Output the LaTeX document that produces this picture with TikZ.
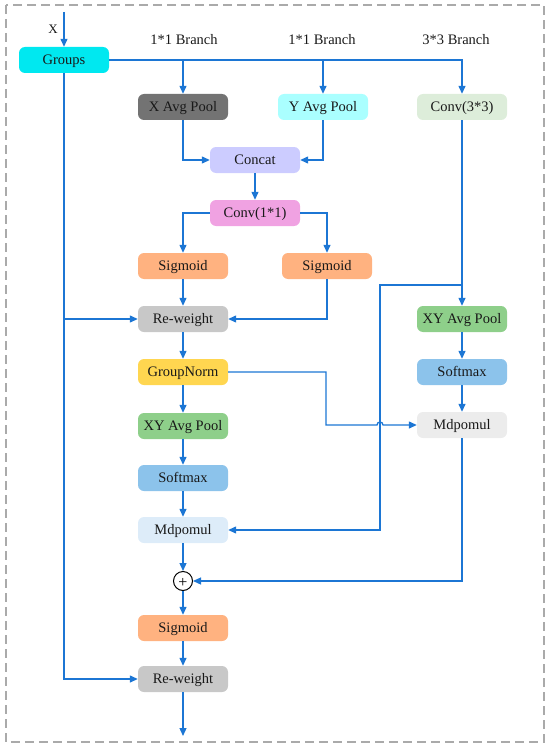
\documentclass[tikz,border=0pt]{standalone}
\usepackage{fontspec}
\setmainfont{Liberation Serif}
\usetikzlibrary{arrows.meta}
\definecolor{lnblue}{RGB}{28,118,212}
\definecolor{cgroups}{RGB}{0,232,240}
\definecolor{cxavg}{RGB}{115,115,115}
\definecolor{cyavg}{RGB}{170,255,255}
\definecolor{cconvt}{RGB}{221,237,218}
\definecolor{cconcat}{RGB}{204,204,255}
\definecolor{cconvo}{RGB}{240,162,226}
\definecolor{csig}{RGB}{255,178,128}
\definecolor{crw}{RGB}{200,200,200}
\definecolor{cgn}{RGB}{255,214,80}
\definecolor{cxy}{RGB}{142,207,138}
\definecolor{csm}{RGB}{140,195,235}
\definecolor{cmdr}{RGB}{236,236,236}
\definecolor{cmdl}{RGB}{221,236,249}
\definecolor{cborder}{RGB}{170,170,170}
\begin{document}
\begin{tikzpicture}[x=1pt,y=-1pt,
  box/.style={rounded corners=6pt, minimum width=90pt, minimum height=26pt, inner sep=0pt,
    text height=12.1pt, text depth=2.5pt,
    font=\fontsize{14.5}{16}\selectfont, text=black!90},
  conn/.style={draw=lnblue, line width=1.3pt, -{Triangle[length=8pt,width=7pt]}},
  lbl/.style={font=\fontsize{14.5}{16}\selectfont, text=black!90}]
\useasboundingbox (0,0) rectangle (550,749);
\draw[cborder, line width=1.5pt, dash pattern=on 9pt off 5pt] (6,5) rectangle (544,742);

% labels
\node[lbl] (lb1) at (184,40) {1*1 Branch};
\node[lbl] (lb2) at (322,40) {1*1 Branch};
\node[lbl] (lb3) at (456,40) {3*3 Branch};
\node[lbl, font=\fontsize{13}{14}\selectfont] (lx) at (53,29) {X};

% nodes
\node[box, fill=cgroups] (groups) at (64,60) {Groups};
\node[box, fill=cxavg] (xavg) at (183,107) {X Avg Pool};
\node[box, fill=cyavg] (yavg) at (323,107) {Y Avg Pool};
\node[box, fill=cconvt] (conv3) at (462,107) {Conv(3*3)};
\node[box, fill=cconcat] (concat) at (255,160) {Concat};
\node[box, fill=cconvo] (conv1) at (255,213) {Conv(1*1)};
\node[box, fill=csig] (sig1) at (183,266) {Sigmoid};
\node[box, fill=csig] (sig2) at (327,266) {Sigmoid};
\node[box, fill=crw] (rw1) at (183,319) {Re-weight};
\node[box, fill=cgn] (gn) at (183,372) {GroupNorm};
\node[box, fill=cxy] (xy1) at (183,426) {XY Avg Pool};
\node[box, fill=csm] (sm1) at (183,478) {Softmax};
\node[box, fill=cmdl] (md1) at (183,530) {Mdpomul};
\node[draw=black, line width=1pt, circle, minimum size=19pt, inner sep=0pt,
  text height=12pt, text depth=0pt, font=\fontsize{16}{16}\selectfont] (plus) at (183,581) {+};
\node[box, fill=csig] (sig3) at (183,628) {Sigmoid};
\node[box, fill=crw] (rw2) at (183,679) {Re-weight};
\node[box, fill=cxy] (xy2) at (462,319) {XY Avg Pool};
\node[box, fill=csm] (sm2) at (462,372) {Softmax};
\node[box, fill=cmdr] (md2) at (462,425) {Mdpomul};

\coordinate (xin) at (64,12);
\coordinate (out) at (183,736);
\coordinate (tap) at (462,285);
\coordinate (side) at (380,285);
\coordinate (gnturn) at (326,372);

% connectors
\draw[conn] (xin) -- (groups.north);
\draw[conn] (groups.east) -| (conv3.north);
\draw[conn] (xavg.north |- groups.east) -- (xavg.north);
\draw[conn] (yavg.north |- groups.east) -- (yavg.north);
\draw[conn] (xavg.south) |- (concat.west);
\draw[conn] (yavg.south) |- (concat.east);
\draw[conn] (concat) -- (conv1);
\draw[conn] (conv1.west) -| (sig1.north);
\draw[conn] (conv1.east) -| (sig2.north);
\draw[conn] (sig1) -- (rw1);
\draw[conn] (sig2.south) |- (rw1.east);
\draw[conn] (groups.south) |- (rw2.west);
\draw[conn] (groups.south |- rw1.west) -- (rw1.west);
\draw[conn] (rw1) -- (gn);
\draw[conn] (gn) -- (xy1);
\draw[conn] (xy1) -- (sm1);
\draw[conn] (sm1) -- (md1);
\draw[conn] (md1) -- (plus);
\draw[conn] (plus) -- (sig3);
\draw[conn] (sig3) -- (rw2);
\draw[conn] (rw2) -- (out);
\draw[conn] (conv3) -- (xy2);
\draw[conn] (xy2) -- (sm2);
\draw[conn] (sm2) -- (md2);
\draw[conn] (tap) -- (side) |- (md1.east);
\draw[conn] (md2.south) |- (plus.east);
\draw[conn] (gn.east) -- (gnturn) -- (gnturn |- md2.west) -- (377,425) arc[start angle=180, end angle=0, radius=3pt] -- (md2.west);
\end{tikzpicture}
\end{document}
